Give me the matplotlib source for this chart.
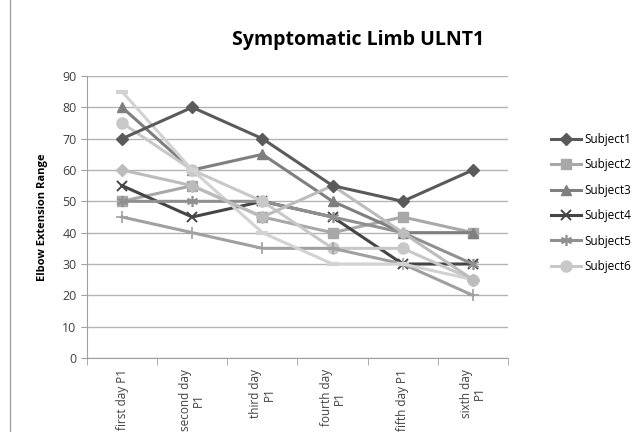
import matplotlib
matplotlib.use("Agg")
import matplotlib.pyplot as plt
from matplotlib.lines import Line2D
import numpy as np

categories = ["first day P1", "second day\nP1", "third day\nP1", "fourth day\nP1", "fifth day P1", "sixth day\nP1"]

subject1 = [70, 80, 70, 55, 50, 60]
subject2 = [50, 55, 45, 40, 45, 40]
subject3 = [80, 60, 65, 50, 40, 40]
subject4 = [55, 45, 50, 45, 30, 30]
subject5 = [50, 50, 50, 45, 40, 30]
subject6 = [75, 60, 50, 35, 35, 25]
subject7 = [45, 40, 35, 35, 30, 20]
subject8 = [85, 60, 40, 30, 30, 25]
subject9 = [60, 55, 45, 55, 40, 25]

series = [
    ("Subject1", subject1, "D", "#5a5a5a", 6, True),
    ("Subject2", subject2, "s", "#a8a8a8", 7, True),
    ("Subject3", subject3, "^", "#7f7f7f", 7, True),
    ("Subject4", subject4, "x", "#454545", 7, True),
    ("Subject5", subject5, (6, 2, 0), "#909090", 8, True),
    ("Subject6", subject6, "o", "#c8c8c8", 8, True),
    ("Subject7", subject7, "|", "#a0a0a0", 8, False),
    ("Subject8", subject8, "_", "#d2d2d2", 8, False),
    ("Subject9", subject9, "D", "#bcbcbc", 6, False),
]

fig = plt.figure(figsize=(6.33, 4.32), dpi=100)
ax = fig.add_axes([87/633, 1-358/432, (508-87)/633, (358-76)/432])

x = np.arange(len(categories))
handles = []
for i, (name, vals, mk, col, ms, inleg) in enumerate(series):
    z = 6 if i == 0 else 3
    if mk == "|":
        ln, = ax.plot(x, vals, color=col, lw=2.2, marker="+", ms=ms, mew=1.2, zorder=z)
    elif mk in ("x",):
        ln, = ax.plot(x, vals, color=col, lw=2.2, marker=mk, ms=ms, mew=1.4, zorder=z)
    elif isinstance(mk, tuple):
        ln, = ax.plot(x, vals, color=col, lw=2.2, marker=mk, ms=ms, mew=1.2, zorder=z)
    elif mk == "_":
        ln, = ax.plot(x, vals, color=col, lw=2.2, marker=mk, ms=ms, mew=3, zorder=z)
    else:
        ln, = ax.plot(x, vals, color=col, lw=2.2, marker=mk, ms=ms, zorder=z)
    if inleg:
        handles.append(ln)

ax.set_xlim(-0.5, len(categories) - 0.5)
ax.set_ylim(0, 90)
ax.set_yticks(np.arange(0, 91, 10))
ax.yaxis.grid(True, color="#b4b4b4", lw=1)
ax.set_axisbelow(True)
for s in ["top", "right"]:
    ax.spines[s].set_visible(False)
for s in ["left", "bottom"]:
    ax.spines[s].set_color("#a0a0a0")
ax.tick_params(axis="y", length=4, color="#a0a0a0", labelsize=9, labelcolor="#404040")
ax.set_xticks(x)
ax.set_xticklabels(categories, rotation=90, fontsize=8.5, color="#404040", linespacing=1.0,
                   va="top", ha="center")
ax.tick_params(axis="x", which="major", length=0, pad=8)
ax.set_xticks(np.arange(-0.5, len(categories), 1), minor=True)
ax.tick_params(axis="x", which="minor", length=5, color="#a0a0a0")
for lab in ax.get_yticklabels():
    lab.set_family("Open Sans")
for lab in ax.get_xticklabels():
    lab.set_family("Open Sans")

ax.set_ylabel("Elbow Extension Range", fontsize=8, fontweight="bold", family="Open Sans",
              color="#000000", labelpad=10)

fig.text(0.565, 1-40/432, "Symptomatic Limb ULNT1", fontsize=14, fontweight="bold",
         family="Open Sans", ha="center", va="center")

legend_names = [s[0] for s in series if s[5]]
fig.legend(handles=handles, labels=legend_names,
           loc="center left", bbox_to_anchor=(540/633, 1-203/432), frameon=False,
           handlelength=2.6, labelspacing=1.05, handletextpad=0.3,
           prop={"family": "Open Sans", "size": 8.5})

fig.add_artist(Line2D([10/633, 10/633], [0, 1], transform=fig.transFigure, color="#a0a0a0", lw=1))

fig.savefig("out.png", dpi=100)
